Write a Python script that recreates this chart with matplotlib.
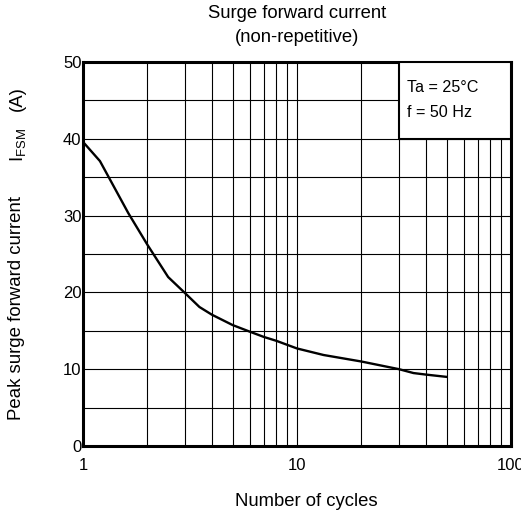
import numpy as np
import matplotlib
matplotlib.use("Agg")
import matplotlib.pyplot as plt
from matplotlib.patches import Rectangle
from matplotlib.ticker import FixedLocator, NullFormatter

plt.rcParams['font.family'] = ['Liberation Sans', 'DejaVu Sans']

# Curve
cycles = [1, 1.2, 1.63, 2, 2.5, 3, 3.5, 4, 5, 6, 7, 8, 10, 13.3, 20, 30, 35, 40, 50]
ifsm = [39.6, 37.1, 30.3, 26.2, 22.0, 19.9, 18.1, 17.1, 15.75, 14.9, 14.2, 13.7,
        12.7, 11.85, 11.0, 10.0, 9.5, 9.3, 9.0]

y_ticks = [0, 10, 20, 30, 40, 50]
x_ticks = [1, 10, 100]
x_tick_labels = ['1', '10', '100']
conditions = ['Ta = 25°C', 'f = 50 Hz']

W, H = 521, 515
fig = plt.figure(figsize=(W / 100, H / 100), dpi=100)
ax = fig.add_axes([83 / W, 1 - 446 / H, 428 / W, 384 / H])

ax.set_xscale('log')
ax.set_xlim(1, 100)
ax.set_ylim(0, 50)

# grid: every 5 A, every cycle step on the log axis
ax.xaxis.set_major_locator(FixedLocator(x_ticks))
ax.xaxis.set_minor_locator(FixedLocator([2, 3, 4, 5, 6, 7, 8, 9, 20, 30, 40, 50, 60, 70, 80, 90]))
ax.xaxis.set_minor_formatter(NullFormatter())
ax.set_xticklabels(x_tick_labels)
ax.yaxis.set_major_locator(FixedLocator(y_ticks))
ax.yaxis.set_minor_locator(FixedLocator([5, 15, 25, 35, 45]))
ax.grid(True, which='both', color='black', lw=0.8)

ax.tick_params(which='both', length=0, labelsize=12)
ax.tick_params(axis='x', pad=9)
ax.tick_params(axis='y', pad=1)
for s in ax.spines.values():
    s.set_linewidth(2.2)

ax.plot(cycles, ifsm, color='black', lw=1.7, zorder=3)

# condition box in the top right corner
ax.add_patch(Rectangle((30, 40), 70, 10, facecolor='white', edgecolor='black',
                       lw=1.5, zorder=4))
ax.text(32.8, 46.7, conditions[0], fontsize=11.6, va='center', zorder=5)
ax.text(32.8, 43.4, conditions[1], fontsize=11.6, va='center', zorder=5)

fig.text(297 / W, 1 - 13 / H, 'Surge forward current', ha='center', va='center', fontsize=13.3)
fig.text(297 / W, 1 - 37 / H, '(non-repetitive)', ha='center', va='center', fontsize=13.3)
fig.text(306 / W, 1 - 502 / H, 'Number of cycles', ha='center', va='center', fontsize=13.3)

# y label in three pieces, spaced as on the sheet
fig.text(17 / W, 1 - 308 / H, 'Peak surge forward current', rotation=90,
         ha='center', va='center', fontsize=13.4)
fig.text(18 / W, 1 - 145 / H, r'$\mathregular{I_{FSM}}$', rotation=90,
         ha='center', va='center', fontsize=13.4)
fig.text(17 / W, 1 - 99 / H, '(A)', rotation=90,
         ha='center', va='center', fontsize=13.4)

fig.savefig('out.png', dpi=100)
